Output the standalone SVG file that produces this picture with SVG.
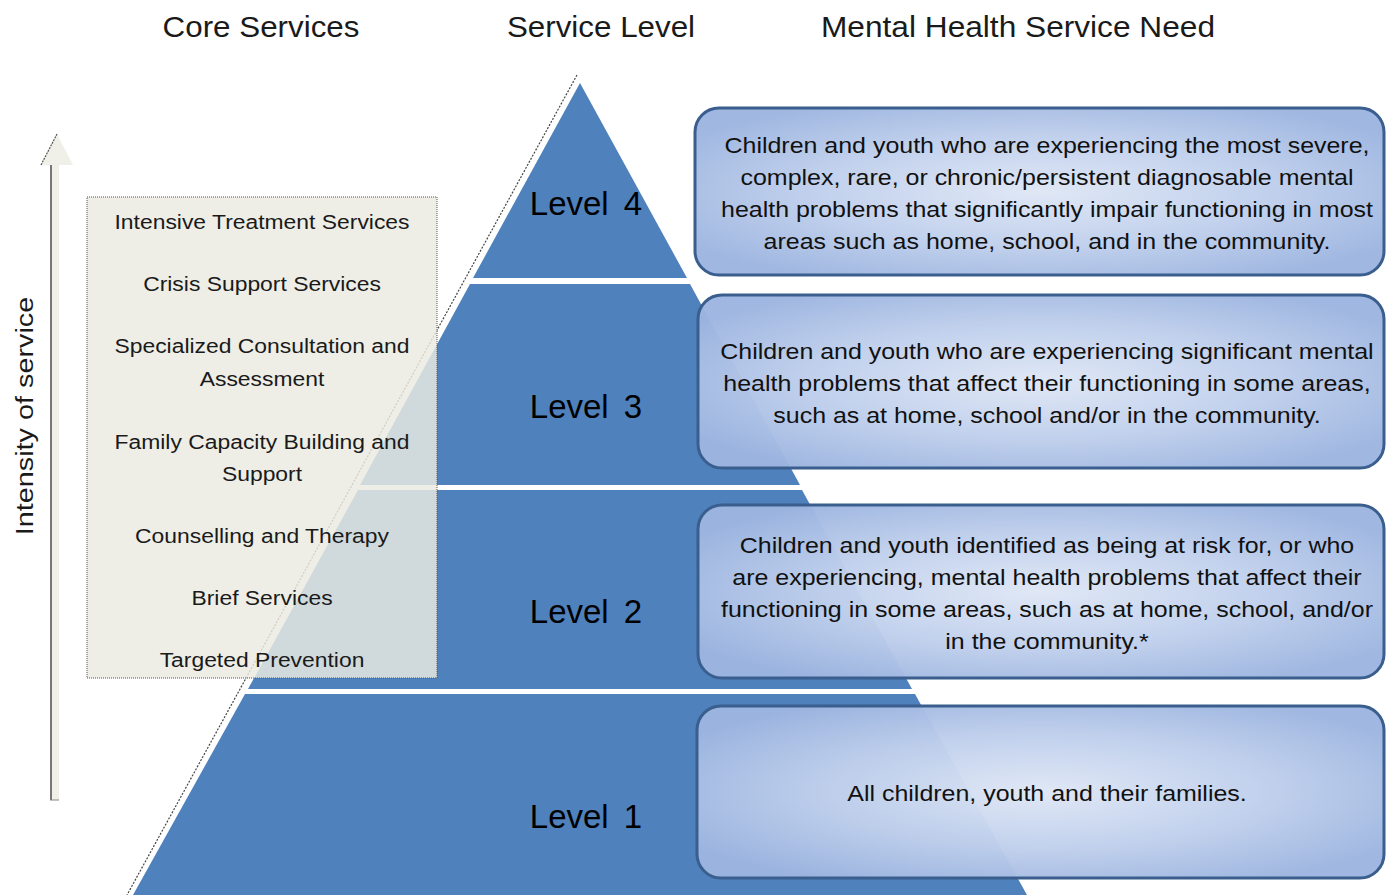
<svg xmlns="http://www.w3.org/2000/svg" width="1386" height="895" viewBox="0 0 1386 895">
<defs>
<radialGradient id="boxg" cx="0.5" cy="0.5" r="0.6">
<stop offset="0" stop-color="#dfe7f5"/>
<stop offset="0.55" stop-color="#bfcfec"/>
<stop offset="1" stop-color="#9db5e0"/>
</radialGradient>
<style>
.hdr{font-family:"Liberation Sans",Arial,sans-serif;font-size:30px;fill:#1a1a1a;text-anchor:middle}
.lvl{font-family:"Liberation Sans",Arial,sans-serif;font-size:33px;fill:#000;text-anchor:middle;word-spacing:6px}
.svc{font-family:"Liberation Sans",Arial,sans-serif;font-size:21px;fill:#1a1a1a;text-anchor:middle}
.need{font-family:"Liberation Sans",Arial,sans-serif;font-size:22px;fill:#111;text-anchor:middle}
.tier{fill:#4f81bd}
.box{fill:url(#boxg);fill-opacity:0.97;stroke:#3a5f8e;stroke-width:3}
</style>
</defs>
<rect width="1386" height="895" fill="#fff"/>

<g id="headers">
<text class="hdr" transform="translate(261,37) scale(1.045,1)">Core Services</text>
<text class="hdr" transform="translate(601,37) scale(1.045,1)">Service Level</text>
<text class="hdr" transform="translate(1018,37) scale(1.055,1)">Mental Health Service Need</text>
</g>

<g id="pyramid">
<line x1="577" y1="75" x2="127" y2="895" stroke="#444" stroke-width="1.2" stroke-dasharray="2,1.5"/>
<g id="level4"><polygon class="tier" points="580,83 687,278 473,278"/><text class="lvl" x="586" y="215">Level 4</text></g>
<g id="level3"><polygon class="tier" points="470,284 690,284 800,485 360,485"/><text class="lvl" x="586" y="418">Level 3</text></g>
<g id="level2"><polygon class="tier" points="358,490 802,490 912,689 248,689"/><text class="lvl" x="586" y="623">Level 2</text></g>
<g id="level1"><polygon class="tier" points="245,694 915,694 1027,895 133,895"/><text class="lvl" x="586" y="828">Level 1</text></g>
</g>

<g id="arrow">
<polygon points="57,134 73,165 59,165 59,800 50,800 50,165 41,165" fill="#f1f0e8"/>
<polyline points="41,165 57,134" fill="none" stroke="#555" stroke-width="1.2" stroke-dasharray="2,1"/>
<line x1="51" y1="165" x2="51" y2="800" stroke="#777" stroke-width="2"/>
<line x1="50" y1="800" x2="59" y2="800" stroke="#888" stroke-width="1"/>
<text transform="translate(33,416) rotate(-90) scale(1.2,1)" font-family="Liberation Sans, Arial, sans-serif" font-size="24" fill="#1a1a1a" text-anchor="middle">Intensity of service</text>
</g>

<g id="core-services">
<rect x="87" y="197" width="350" height="481" fill="#ebeae2" fill-opacity="0.83" stroke="#555" stroke-width="1" stroke-dasharray="1,1"/>
<g transform="translate(262,0) scale(1.09,1)">
<text class="svc" x="0" y="229">Intensive Treatment Services</text>
<text class="svc" x="0" y="291">Crisis Support Services</text>
<text class="svc" x="0" y="353">Specialized Consultation and</text>
<text class="svc" x="0" y="386">Assessment</text>
<text class="svc" x="0" y="449">Family Capacity Building and</text>
<text class="svc" x="0" y="481">Support</text>
<text class="svc" x="0" y="543">Counselling and Therapy</text>
<text class="svc" x="0" y="605">Brief Services</text>
<text class="svc" x="0" y="667">Targeted Prevention</text>
</g>
</g>

<g id="need4">
<rect class="box" x="695" y="108" width="689" height="167" rx="24"/>
<g transform="translate(1047,0) scale(1.135,1)">
<text class="need" x="0" y="153">Children and youth who are experiencing the most severe,</text>
<text class="need" x="0" y="185">complex, rare, or chronic/persistent diagnosable mental</text>
<text class="need" x="0" y="217">health problems that significantly impair functioning in most</text>
<text class="need" x="0" y="249">areas such as home, school, and in the community.</text>
</g>
</g>
<g id="need3">
<rect class="box" x="698" y="295" width="686" height="173" rx="24"/>
<g transform="translate(1047,0) scale(1.135,1)">
<text class="need" x="0" y="359">Children and youth who are experiencing significant mental</text>
<text class="need" x="0" y="391">health problems that affect their functioning in some areas,</text>
<text class="need" x="0" y="423">such as at home, school and/or in the community.</text>
</g>
</g>
<g id="need2">
<rect class="box" x="698" y="505" width="686" height="173" rx="24"/>
<g transform="translate(1047,0) scale(1.135,1)">
<text class="need" x="0" y="553">Children and youth identified as being at risk for, or who</text>
<text class="need" x="0" y="585">are experiencing, mental health problems that affect their</text>
<text class="need" x="0" y="617">functioning in some areas, such as at home, school, and/or</text>
<text class="need" x="0" y="649">in the community.*</text>
</g>
</g>
<g id="need1">
<rect class="box" x="697" y="706" width="687" height="172" rx="24"/>
<g transform="translate(1047,0) scale(1.135,1)">
<text class="need" x="0" y="801">All children, youth and their families.</text>
</g>
</g>
</svg>
